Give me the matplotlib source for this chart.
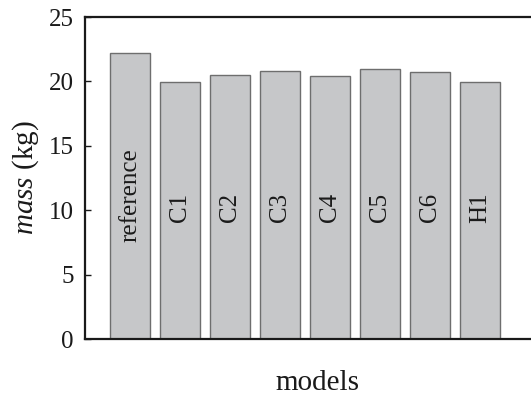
import matplotlib
matplotlib.use("Agg")
import matplotlib.pyplot as plt

models = ["reference", "C1", "C2", "C3", "C4", "C5", "C6", "H1"]
mass_kg = [22.2, 19.93, 20.47, 20.78, 20.42, 20.99, 20.73, 19.93]
y_ticks = [0, 5, 10, 15, 20, 25]

plt.rcParams["font.family"] = "Liberation Serif"
plt.rcParams["mathtext.fontset"] = "custom"
plt.rcParams["mathtext.it"] = "Liberation Serif:italic"
plt.rcParams["mathtext.rm"] = "Liberation Serif"

fig = plt.figure(figsize=(5.31, 3.95), dpi=100)
ax = fig.add_axes([85 / 531, 56 / 395, 465 / 531, 322 / 395])

x = list(range(len(models)))
ax.bar(x, mass_kg, width=0.8, color="#c6c7c9", edgecolor="#6e6e6e", linewidth=1.0, zorder=2)

for xi, name in zip(x, models):
    yc = 11.2 if len(name) > 3 else 10.2
    ax.text(xi, yc, name, rotation=90, ha="center", va="center", fontsize=18, color="#1a1a1a")

ax.set_xlim(-0.9, 8.4)
ax.set_ylim(0, 25)
ax.set_yticks(y_ticks)
ax.set_xticks([])
ax.tick_params(axis="y", direction="in", length=4, width=1, labelsize=18, pad=8, colors="#1a1a1a")
ax.spines["right"].set_visible(False)
for side in ("left", "top", "bottom"):
    ax.spines[side].set_linewidth(1.6)
    ax.spines[side].set_color("#1a1a1a")

ax.set_xlabel("models", fontsize=21, labelpad=22, color="#1a1a1a")
ax.set_ylabel(r"$\mathit{mass}$ (kg)", fontsize=21, labelpad=6, color="#1a1a1a")

fig.savefig("out.png", dpi=100)
